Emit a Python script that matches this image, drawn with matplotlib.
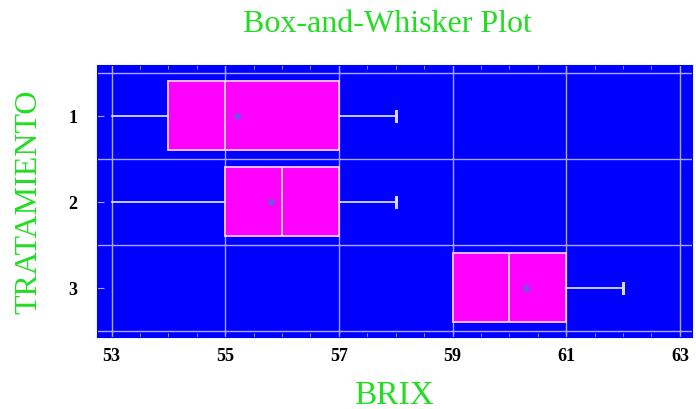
import numpy as np
import matplotlib.pyplot as plt
from matplotlib.ticker import MultipleLocator

# datos del gráfico de caja (BRIX por tratamiento)
tratamientos = ['1', '2', '3']
minimo = [53.0, 53.0, 59.0]
q1 = [54.0, 55.0, 59.0]
mediana = [55.0, 56.0, 60.0]
q3 = [57.0, 57.0, 61.0]
maximo = [58.0, 58.0, 62.0]
media = [55.2, 55.8, 60.3]
x_ticks = [53, 55, 57, 59, 61, 63]

stats = []
for i in range(len(tratamientos)):
    stats.append({'label': tratamientos[i], 'whislo': minimo[i], 'q1': q1[i],
                  'med': mediana[i], 'q3': q3[i], 'whishi': maximo[i],
                  'mean': media[i], 'fliers': []})

plt.rcParams['font.family'] = ['Liberation Serif', 'DejaVu Serif']

fig = plt.figure(figsize=(6.96, 4.10), dpi=100)
ax = fig.add_axes([0.139, 0.176, 0.855, 0.663])
ax.set_facecolor('#0000ff')

bp = ax.bxp(stats, positions=[1, 2, 3], orientation='horizontal', widths=0.8,
            showmeans=True, patch_artist=True, capwidths=0.12,
            boxprops=dict(facecolor='#ff00ff', edgecolor='#ffc8ff', linewidth=1.3),
            medianprops=dict(color='#ffd0ff', linewidth=1.3),
            whiskerprops=dict(color='#d8d8ff', linewidth=1.3),
            capprops=dict(color='#d8d8ff', linewidth=2.2),
            meanprops=dict(marker='P', markersize=5, markerfacecolor='#7a50e0',
                           markeredgecolor='#7a50e0'),
            zorder=3)
# solo se ve el tope derecho de los bigotes
for cap in bp['caps'][0::2]:
    cap.set_visible(False)

ax.set_xlim(52.74, 63.21)
ax.set_ylim(3.57, 0.41)
ax.set_xticks(x_ticks)
ax.xaxis.set_minor_locator(MultipleLocator(0.5))
ax.set_yticks([1, 2, 3])
ax.set_yticklabels(tratamientos)

# rejilla: verticales en las marcas, horizontales entre tratamientos
for x in x_ticks:
    ax.axvline(x, color='#a8a8ff', linewidth=1, zorder=1)
for y in [0.5, 1.5, 2.5, 3.5]:
    ax.axhline(y, color='#a8a8ff', linewidth=1, zorder=1)

ax.tick_params(axis='both', which='both', direction='in', color='#a8a8ff',
               top=True, labelsize=13)
ax.tick_params(axis='x', which='major', length=5, pad=7)
ax.tick_params(axis='x', which='minor', length=3)
ax.tick_params(axis='y', length=5, pad=14)
for lab in ax.get_xticklabels() + ax.get_yticklabels():
    lab.set_fontweight('bold')
for s in ax.spines.values():
    s.set_color('#0000ff')

fig.text(0.556, 0.94, 'Box-and-Whisker Plot', color='#22dd22', fontsize=23,
         ha='center', va='center')
ax.set_xlabel('BRIX', color='#22dd22', fontsize=24, va='center')
ax.xaxis.set_label_coords(0.5, -0.213)
ax.set_ylabel('TRATAMIENTO', color='#22dd22', fontsize=23, va='center')
ax.yaxis.set_label_coords(-0.114, 0.5)

plt.savefig('out.png', dpi=100)
